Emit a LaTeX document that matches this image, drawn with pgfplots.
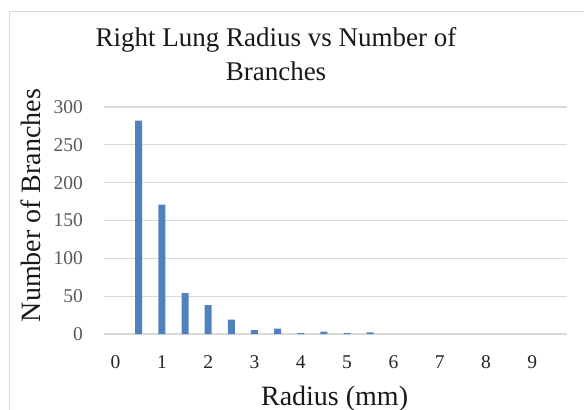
\documentclass[border=0pt]{standalone}
\usepackage{pgfplots}
\pgfplotsset{compat=1.18}
\usepackage{fontspec}
\setmainfont{Liberation Serif}
\definecolor{barblue}{RGB}{79,129,189}
\definecolor{gridgray}{RGB}{217,217,217}
\definecolor{tickgray}{RGB}{89,89,89}
\begin{document}
\begin{tikzpicture}
\path[use as bounding box] (0,0) rectangle (584bp,410bp);
\draw[gridgray, line width=1bp] (9bp,0) -- (9bp,398bp) -- (584bp,398bp);
\begin{axis}[
  at={(104bp,76bp)}, anchor=south west,
  scale only axis, width=463bp, height=227bp,
  xmin=-0.25, xmax=9.75, ymin=0, ymax=300,
  xtick={0,1,...,9}, ytick={0,50,...,300},
  axis line style={draw=none},
  major tick length=0pt,
  ymajorgrids, grid style={gridgray, line width=1.2bp},
  /pgf/number format/assume math mode=true,
  yticklabel style={font=\fontsize{19.5bp}{22bp}\selectfont, text=tickgray, anchor=east, inner sep=0pt, xshift=-21bp},
  xticklabel style={font=\fontsize{19.5bp}{22bp}\selectfont, text=black!85, anchor=base, inner sep=0pt, yshift=-34bp},
  xlabel={Radius (mm)},
  ylabel={Number of Branches},
  label style={font=\fontsize{28bp}{32bp}\selectfont, text=black!90},
  xlabel style={at={(axis description cs:0.498,-0.3128)}, anchor=base, inner sep=0pt},
  ylabel style={at={(axis description cs:-0.1382,0.566)}, anchor=base, inner sep=0pt},
  title={Right Lung Radius vs Number of\\Branches},
  title style={font=\fontsize{27bp}{34.3bp}\selectfont, align=center, text=black!90, at={(axis description cs:0.3715,1.327)}, anchor=north, inner sep=0pt},
  clip=false,
]
\draw[gridgray, line width=1.2bp] (axis cs:-0.25,0) -- (axis cs:9.75,0);
\addplot[ybar, bar width=7bp, fill=barblue, draw=none] coordinates {
  (0.5,282) (1,171) (1.5,54) (2,38) (2.5,19) (3,5) (3.5,7) (4,1) (4.5,3) (5,1) (5.5,2)
};
\end{axis}
\end{tikzpicture}
\end{document}
